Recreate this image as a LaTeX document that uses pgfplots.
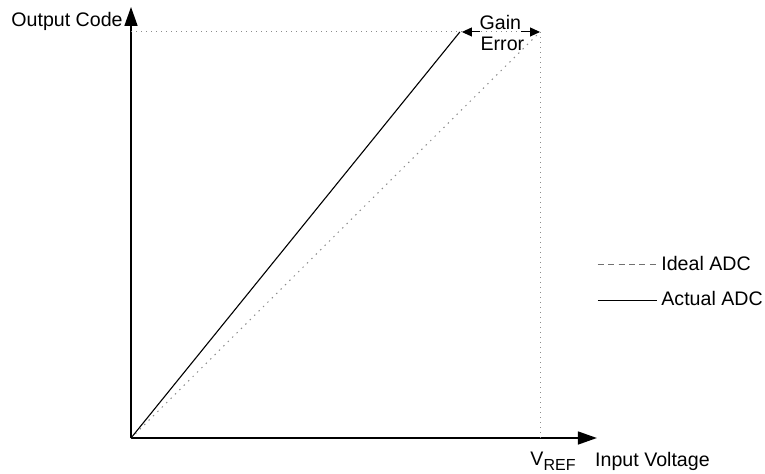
\documentclass[border=0pt]{standalone}
\usepackage{fontspec}
\setmainfont{Liberation Sans}
\usepackage{pgfplots}
\pgfplotsset{compat=1.18}
\usetikzlibrary{arrows.meta}
\definecolor{dotgray}{RGB}{140,140,140}
\begin{document}
\begin{tikzpicture}[font=\fontsize{9.8}{11.5}\selectfont]
\begin{axis}[
  x=204.5pt, y=203pt,
  xmin=0, xmax=1.139, ymin=0, ymax=1.0616,
  axis lines=left,
  axis line style={line width=0.8pt, -{Triangle[length=9.5pt,width=6.5pt]}},
  xtick=\empty, ytick=\empty,
  clip=false,
  legend style={at={(axis cs:1.139,0.383)}, anchor=west, draw=none, fill=none,
    inner xsep=0pt, row sep=5pt, font=\fontsize{9.8}{11.5}\selectfont},
  legend cell align=left,
  legend image code/.code={\draw[#1] (0pt,0pt) -- (26pt,0pt); \path (0pt,0pt) -- (29.5pt,0pt);},
]
% reference dotted lines
\addplot[dotgray, line width=0.5pt, dash pattern=on 0.6pt off 1.9pt, forget plot] coordinates {(0,1) (1,1)};
\addplot[dotgray, line width=0.5pt, dash pattern=on 0.6pt off 1.9pt, forget plot] coordinates {(1,1) (1,0)};
% ideal ADC
\addplot[dotgray, line width=0.5pt, dash pattern=on 0.7pt off 2.4pt, forget plot] coordinates {(0,0) (1,1)};
\addlegendimage{dotgray!80!black, line width=0.5pt, dash pattern=on 3pt off 2.2pt}
\addlegendentry{Ideal ADC}
% actual ADC
\addplot[black, line width=0.55pt] coordinates {(0,0) (0.804,1)};
\addlegendentry{Actual ADC}
% gain error annotation
\draw[line width=0.5pt, -{Triangle[length=5pt,width=4.5pt]}] (axis cs:0.853,1) -- (axis cs:0.809,1);
\draw[line width=0.5pt, -{Triangle[length=5pt,width=4.5pt]}] (axis cs:0.953,1) -- (axis cs:1.0,1);
\node[inner sep=0pt] at (axis cs:0.903,1.0227) {Gain};
\node[inner sep=0pt] at (axis cs:0.908,0.9717) {Error};
% labels
\node[anchor=east, inner sep=0pt] at (axis cs:-0.0196,1.027) {Output Code};
\node[anchor=north west, inner sep=0pt] at ([yshift=-7pt]axis cs:0.9756,0) {V\raisebox{-2.5pt}{\fontsize{8}{9}\selectfont REF}};
\node[anchor=north west, inner sep=0pt] at ([yshift=-7pt]axis cs:1.134,0) {Input Voltage};
\coordinate (bbSW) at (axis cs:-0.3203,-0.0875);
\coordinate (bbNE) at (axis cs:1.550,1.0788);
\end{axis}
\pgfresetboundingbox
\path (bbSW) rectangle (bbNE);
\end{tikzpicture}
\end{document}
